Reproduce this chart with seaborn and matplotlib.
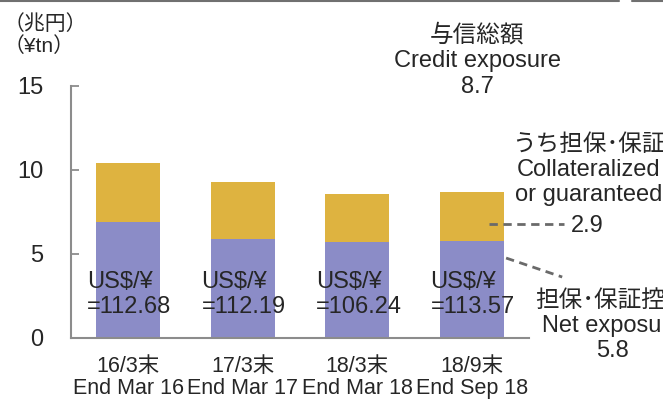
import matplotlib
matplotlib.use("Agg")
import matplotlib.pyplot as plt
from matplotlib.lines import Line2D
import pandas as pd
import seaborn as sns

# values in trillion yen
periods_jp = ["16/3末", "17/3末", "18/3末", "18/9末"]
periods_en = ["End Mar 16", "End Mar 17", "End Mar 18", "End Sep 18"]
net_exposure = [6.9, 5.9, 5.7, 5.8]
collateralized = [3.5, 3.4, 2.9, 2.9]
fx_rates = ["112.68", "112.19", "106.24", "113.57"]

PURPLE = "#8b8cc7"
GOLD = "#deb340"
GRID = "#8c8c8c"

sns.set_theme(style="white")
plt.rcParams['font.family'] = ['Liberation Sans', 'Noto Sans CJK JP']
plt.rcParams['font.size'] = 17

df = pd.DataFrame({
    'period': periods_en,
    'net': net_exposure,
    'total': [n + c for n, c in zip(net_exposure, collateralized)],
})

W, H = 663, 401
fig = plt.figure(figsize=(W / 100, H / 100), dpi=100)
ax = fig.add_axes([71 / W, 1 - 338 / H, (529 - 71) / W, (338 - 86) / H])

# stacked bars: total first, net on top of it
sns.barplot(data=df, x='period', y='total', color=GOLD, saturation=1,
            width=0.555, linewidth=0, ax=ax)
sns.barplot(data=df, x='period', y='net', color=PURPLE, saturation=1,
            width=0.555, linewidth=0, ax=ax)

ax.set_xlim(-0.5, 3.5)
ax.set_ylim(0, 15)
ax.set_yticks([0, 5, 10, 15])
ax.set_xticks(range(len(periods_en)))
ax.set_xticklabels([f"{j}\n{e}" for j, e in zip(periods_jp, periods_en)],
                   fontsize=15.5, linespacing=1.05)
ax.set_xlabel("")
ax.set_ylabel("")
ax.tick_params(axis='y', direction='in', length=6, width=1.3, color=GRID,
               pad=20, labelsize=17, left=True)
ax.tick_params(axis='x', length=0, pad=13)
for side in ['top', 'right']:
    ax.spines[side].set_visible(False)
for side in ['left', 'bottom']:
    ax.spines[side].set_color(GRID)
    ax.spines[side].set_linewidth(1.5)

for i, r in enumerate(fx_rates):
    ax.text(i - 0.36, 2.6, f"US$/¥\n={r}", ha='left', va='center', fontsize=17)

# dashed leader lines
ax.plot([3.155, 3.81], [6.79, 6.79], ls=(0, (3, 2)), color='#6a6a6a', lw=2,
        clip_on=False)
ax.plot([3.30, 3.79], [4.76, 3.63], ls=(0, (3, 2)), color='#6a6a6a', lw=2,
        clip_on=False)

def ftxt(x, y, s, **kw):
    fig.text(x / W, 1 - y / H, s, ha='center', va='center',
             multialignment='center', fontsize=17, **kw)

ftxt(477, 61, "与信総額\nCredit exposure\n8.7")
ftxt(589, 170, "うち担保･保証\nCollateralized\nor guaranteed")
ftxt(587, 226, "2.9")
ftxt(612, 326, "担保･保証控除\nNet exposure\n5.8")

fig.text(4 / W, 1 - 35 / H, "（兆円）\n（¥tn）", ha='left', va='center',
         fontsize=15, linespacing=1.15)

# slide frame line at the very top
fig.add_artist(Line2D([0, 619 / W], [1 - 1 / H] * 2, color='#707070', lw=1.5))
fig.add_artist(Line2D([632 / W, 1], [1 - 1 / H] * 2, color='#707070', lw=1.5))

fig.savefig("out.png", dpi=100)
